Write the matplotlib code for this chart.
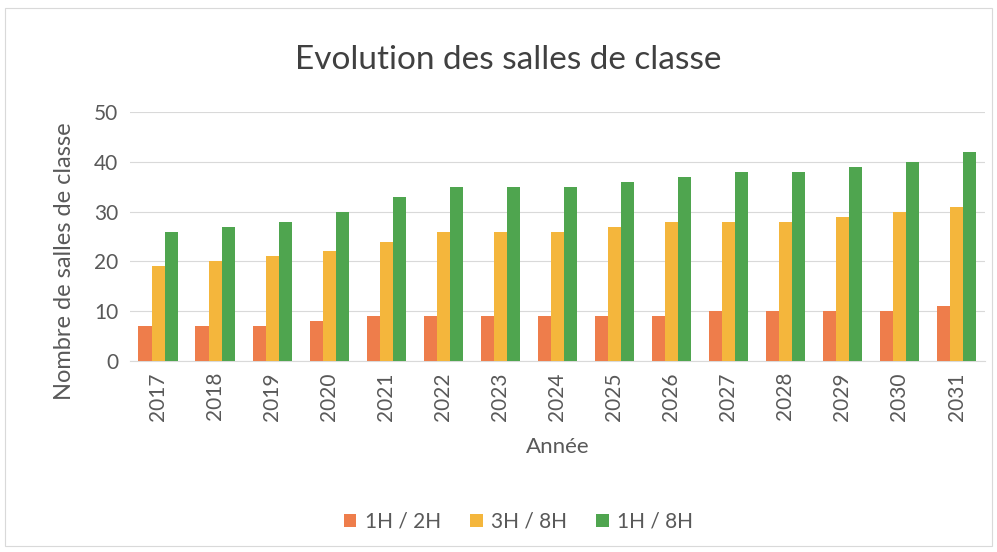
import numpy as np
from matplotlib import pyplot as plt
from matplotlib.patches import Rectangle

plt.rcParams['font.family'] = ['Lato', 'DejaVu Sans']

years = ['2017', '2018', '2019', '2020', '2021', '2022', '2023', '2024',
         '2025', '2026', '2027', '2028', '2029', '2030', '2031']
s_1h2h = [7, 7, 7, 8, 9, 9, 9, 9, 9, 9, 10, 10, 10, 10, 11]
s_3h8h = [19, 20, 21, 22, 24, 26, 26, 26, 27, 28, 28, 28, 29, 30, 31]
s_1h8h = [26, 27, 28, 30, 33, 35, 35, 35, 36, 37, 38, 38, 39, 40, 42]
labels = ['1H / 2H', '3H / 8H', '1H / 8H']
colors = ['#EE7D4B', '#F4B63C', '#4FA54F']

fig = plt.figure(figsize=(9.97, 5.52), dpi=100)
ax = fig.add_axes([0.130, 0.346, 0.858, 0.451])

x = np.arange(len(years))
w = 0.23
for i, (vals, lab, c) in enumerate(zip([s_1h2h, s_3h8h, s_1h8h], labels, colors)):
    ax.bar(x + (i - 1) * w, vals, w, color=c, label=lab, zorder=3)

ax.set_xlim(-0.5, len(years) - 0.5)
ax.set_ylim(0, 50)
ax.set_yticks(range(0, 51, 10))
ax.set_xticks(x)
ax.set_xticklabels(years, rotation=90)
ax.yaxis.grid(True, color='#D9D9D9', lw=0.8, zorder=0)
for s in ['top', 'right', 'left']:
    ax.spines[s].set_visible(False)
ax.spines['bottom'].set_color('#D9D9D9')
ax.tick_params(length=0, labelsize=15, colors='#595959', pad=8)

ax.set_xlabel('Année', fontsize=16, color='#595959', labelpad=12)
ax.set_ylabel('Nombre de salles de classe', fontsize=17, color='#595959')
ax.yaxis.set_label_coords(-0.064, 0.4)
fig.text(0.51, 0.892, 'Evolution des salles de classe', ha='center', va='center',
         fontsize=24, color='#404040')

fig.legend(loc='center', bbox_to_anchor=(0.52, 0.055), ncol=3, frameon=False,
           fontsize=15, handlelength=0.6, handleheight=0.6, columnspacing=1.4,
           handletextpad=0.4, labelcolor='#595959')

fig.patches.append(Rectangle((0.005, 0.01), 0.99, 0.975, transform=fig.transFigure,
                             fill=False, edgecolor='#D9D9D9', lw=0.8))

plt.savefig('out.png', dpi=100)
